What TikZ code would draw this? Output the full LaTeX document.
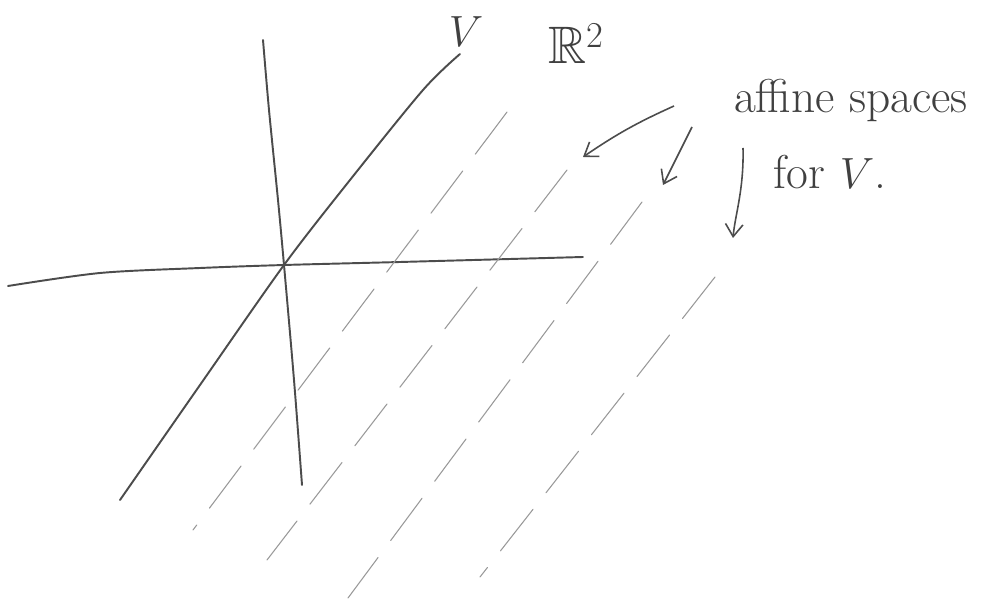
\documentclass[tikz,border=0pt]{standalone}
\usepackage{amssymb}
\usetikzlibrary{arrows.meta, calc}
\tikzset{
  ax/.style = {draw=black!70, line width=1.1pt, line cap=round},
  af/.style = {draw=black!40, line width=0.6pt, line cap=round,
    dash pattern=on 30pt off 12pt},
  seta/.style = {-{Straight Barb[length=2.5mm, width=3.5mm]}, draw=black!70,
    line width=0.9pt},
  rot/.style = {font=\fontsize{27}{32}\selectfont, text=black!75, inner sep=0pt}
}

\begin{document}
\begin{tikzpicture}[x=0.02cm, y=-0.02cm]
  \useasboundingbox (0,0) rectangle (997,614);
  \fill [white] (0,0) rectangle (997,614);

  % eixos
  \draw [ax] plot [smooth] coordinates {(8,286) (100,273) (200,268) (284,265)
    (400,262) (583,257)};
  \draw [ax] plot [smooth] coordinates {(263,40) (269,110) (278,200) (284,265)
    (294,380) (302,485)};

  % o subespaço V
  \draw [ax] plot [smooth] coordinates {(120,500) (200,385) (284,265) (350,180)
    (423,90) (460,54)};

  % espaços afins
  \foreach \xa/\ya/\xb/\yb [count=\i] in {507/112/193/530, 567/170/267/560,
      642/202/348/598, 715/277/480/577} {
    \coordinate (p\i) at (\xa,\ya);
    \coordinate (q\i) at (\xb,\yb);
    \draw [af] (p\i) -- (q\i);
  }

  % rótulos
  \node [rot] (v) at (466,32) {$V$};
  \node [rot] (r2) at (576,44) {\fontsize{30}{34}\selectfont$\mathbb{R}^2$};
  \node [rot] (lab) at (851,100) {affine spaces};
  \node [rot] (labf) at (830,172) {for $V$.};

  % setas
  \coordinate (a1) at (674,106);
  \coordinate (a2) at (692,127);
  \coordinate (a3) at (743,148);
  \coordinate (t1) at (583,157);
  \coordinate (t2) at (663,185);
  \coordinate (t3) at (733,238);
  \draw [seta] (a1) to [bend right=5] (t1);
  \draw [seta] (a2) -- (t2);
  \draw [seta] (a3) .. controls (744,190) and (735,215) .. (t3);
\end{tikzpicture}
\end{document}
